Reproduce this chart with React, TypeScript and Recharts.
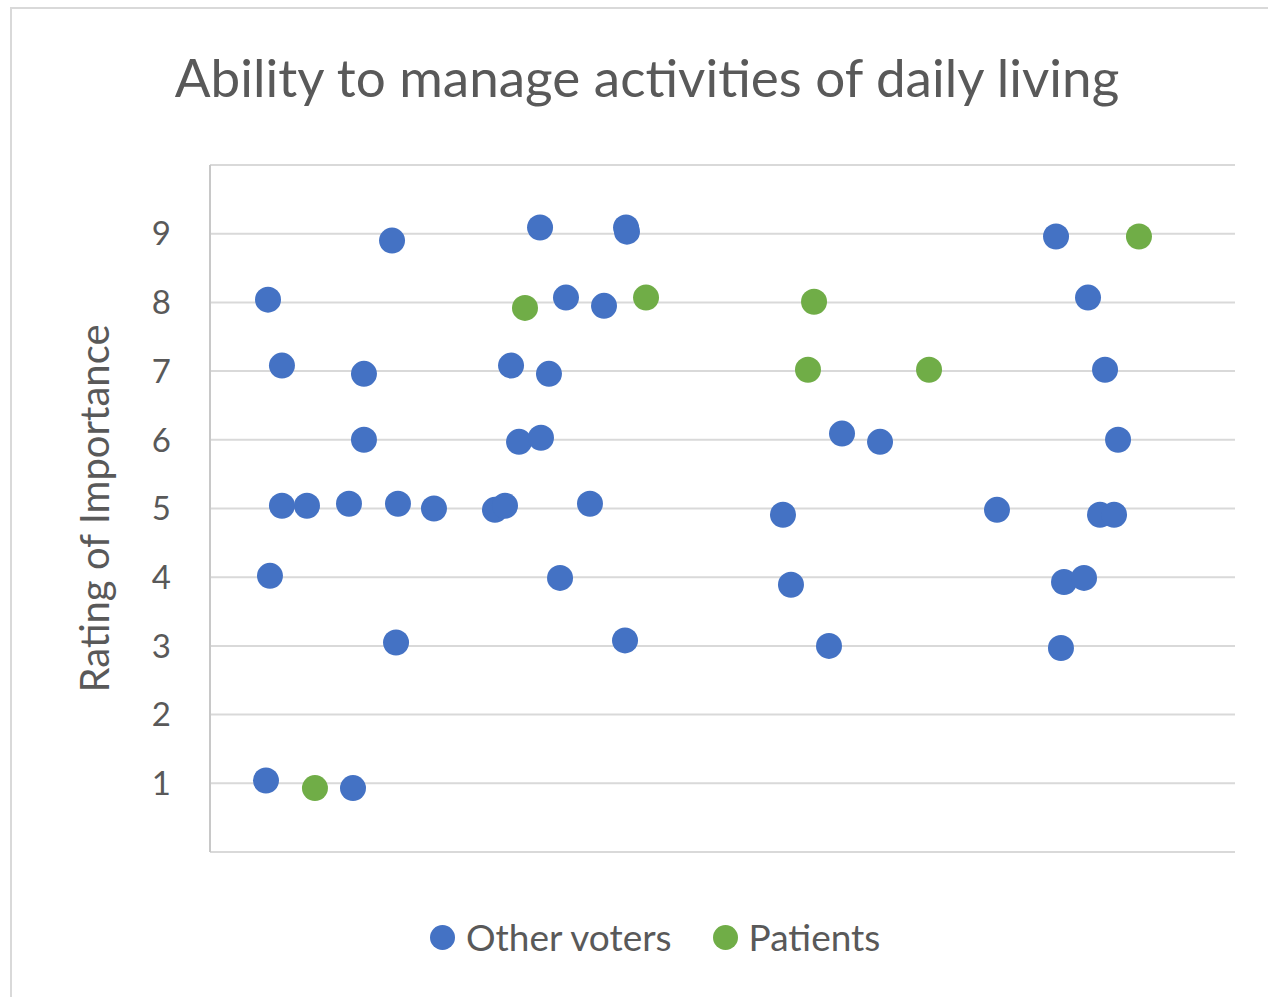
import { ScatterChart, Scatter, XAxis, YAxis, CartesianGrid } from 'recharts';

const otherVotersX = [
  5.66, 7.02, 5.85, 7.02, 9.46, 5.46, 13.95, 17.76, 15.02, 15.02, 13.56, 18.34, 21.85, 18.15,
  27.8, 28.78, 32.2, 29.37, 33.07, 30.15, 32.29, 34.73, 38.44, 34.15, 37.07, 40.59, 40.68, 40.49,
  55.9, 56.68, 60.39, 61.66, 65.37, 76.78, 82.54, 85.66, 87.32, 88.59, 86.83, 88.2, 83.32, 85.27,
  83.02,
];
const otherVotersY = [
  8.04, 7.08, 4.02, 5.04, 5.04, 1.04, 0.93, 8.9, 6.96, 6.0, 5.07, 5.07, 5.0, 3.05,
  4.98, 5.04, 9.09, 7.08, 6.96, 5.97, 6.03, 8.07, 7.95, 3.99, 5.07, 9.09, 9.03, 3.08,
  4.91, 3.89, 3.0, 6.09, 5.97, 4.98, 8.96, 8.07, 7.02, 6.0, 4.91, 4.91, 3.93, 3.99,
  2.97,
];
const patientsX = [10.24, 30.73, 42.54, 58.93, 58.34, 70.15, 90.63];
const patientsY = [0.93, 7.92, 8.07, 8.01, 7.02, 7.02, 8.96];

const yTicks = [0, 1, 2, 3, 4, 5, 6, 7, 8, 9, 10];

const series = [
  { name: 'Other voters', color: '#4472C4', xs: otherVotersX, ys: otherVotersY },
  { name: 'Patients', color: '#70AD47', xs: patientsX, ys: patientsY },
];

const font = 'Lato, "Open Sans", sans-serif';
const textColor = '#595959';

const dot = (color: string) => (props: any) =>
  <circle cx={props.cx} cy={props.cy} r={13} fill={color} />;

export default function App() {
  return (
    <div style={{ position: 'absolute', left: 0, top: 0, width: 1268, height: 997, background: '#fff', overflow: 'hidden', fontFamily: font }}>
      <div style={{ position: 'absolute', left: 10, top: 7, width: 1300, height: 1100, border: '2px solid #d9d9d9' }} />
      <div style={{ position: 'absolute', left: 0, width: 1294, top: 45, textAlign: 'center', fontSize: 53, lineHeight: 1.2, color: textColor, whiteSpace: 'nowrap' }}>
        Ability to manage activities of daily living
      </div>
      <div style={{ position: 'absolute', left: 0, top: 0 }}>
        <ScatterChart width={1268} height={997} margin={{ top: 165, right: 33, bottom: 145, left: 70 }}>
          <CartesianGrid horizontal vertical={false} stroke="#d9d9d9" strokeWidth={2} />
          <XAxis type="number" dataKey="x" domain={[0, 100]} hide />
          <YAxis
            type="number"
            dataKey="y"
            domain={[0, 10]}
            ticks={yTicks}
            interval={0}
            width={140}
            tickLine={false}
            tickMargin={33}
            axisLine={{ stroke: '#c8c8c8', strokeWidth: 2 }}
            tickFormatter={(v: number) => (v === 0 || v === 10 ? '' : String(v))}
            tick={{ fill: textColor, fontSize: 33, fontFamily: font }}
            label={{
              value: 'Rating of Importance',
              angle: -90,
              position: 'insideLeft',
              offset: 25,
              style: { textAnchor: 'middle', fill: textColor, fontSize: 40, fontFamily: font },
            }}
          />
          {series.map((s) => (
            <Scatter
              key={s.name}
              name={s.name}
              data={s.xs.map((x, i) => ({ x, y: s.ys[i] }))}
              fill={s.color}
              shape={dot(s.color)}
              isAnimationActive={false}
            />
          ))}
        </ScatterChart>
      </div>
      <div style={{ position: 'absolute', top: 915, left: 430, display: 'flex', alignItems: 'center', fontSize: 37, lineHeight: 1.2, color: textColor, whiteSpace: 'nowrap' }}>
        {series.map((s) => (
          <div key={s.name} style={{ display: 'flex', alignItems: 'center', marginRight: 41 }}>
            <span style={{ width: 25, height: 25, borderRadius: 13, background: s.color, marginRight: 11, display: 'inline-block' }} />
            <span>{s.name}</span>
          </div>
        ))}
      </div>
    </div>
  );
}
